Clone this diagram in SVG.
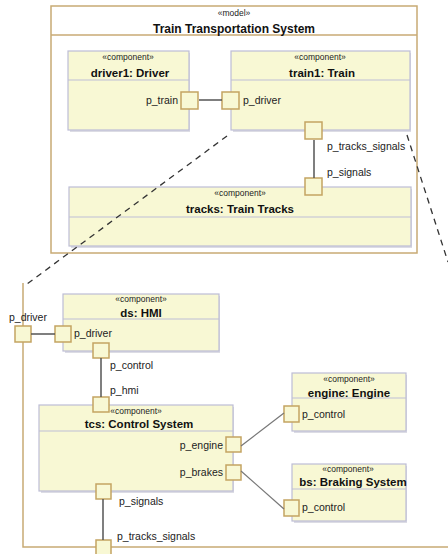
<svg xmlns="http://www.w3.org/2000/svg" width="448" height="554" viewBox="0 0 448 554">
  <style>
    .frame { fill: #ffffff; stroke: #c8aa74; stroke-width: 1.5; }
    .frameline { fill: none; stroke: #c8aa74; stroke-width: 1.5; }
    .box { fill: #f8f8d4; stroke: #bdbdd6; stroke-width: 1.2; }
    .shadow { fill: #dcdce4; }
    .sep { stroke: #bdbdd6; stroke-width: 1.2; }
    .port { fill: #f8f8d4; stroke: #c4a462; stroke-width: 1.5; }
    .conn { stroke: #555555; stroke-width: 1.5; fill: none; }
    .conn2 { stroke: #777777; stroke-width: 1.2; fill: none; }
    .dash { stroke: #333333; stroke-width: 1.3; fill: none; stroke-dasharray: 6 5; }
    .st { font-family: "Liberation Sans", Arial, sans-serif; font-size: 8.5px; fill: #222222; text-anchor: middle; }
    .ttl { font-family: "Liberation Sans", Arial, sans-serif; font-size: 11.5px; font-weight: bold; fill: #111111; text-anchor: middle; }
    .lbl { font-family: "Liberation Sans", Arial, sans-serif; font-size: 10.5px; fill: #222222; }
    .end { text-anchor: end; }
  </style>

  <!-- model frame -->
  <g id="model">
    <rect class="frame" x="51" y="6" width="366" height="247"/>
    <line class="frameline" x1="51" y1="35" x2="417" y2="35"/>
    <text class="st" x="234" y="16">«model»</text>
    <text class="ttl" x="234" y="33" style="font-size:12px">Train Transportation System</text>
  </g>

  <!-- expanded train internals frame -->
  <g id="train-internals">
    <path class="frameline" d="M23 283 V547 H448"/>
  </g>

  <!-- driver1 -->
  <g id="driver1">
    <rect class="shadow" x="70" y="53" width="120" height="79"/>
    <rect class="box" x="68" y="51" width="121" height="79"/>
    <line class="sep" x1="68" y1="80" x2="189" y2="80"/>
    <text class="st" x="128" y="60">«component»</text>
    <text class="ttl" x="130" y="77">driver1: Driver</text>
    <rect class="port" x="181" y="92" width="17" height="17"/>
    <text class="lbl end" x="178" y="104">p_train</text>
  </g>

  <!-- train1 -->
  <g id="train1">
    <rect class="shadow" x="233" y="53" width="178" height="79"/>
    <rect class="box" x="231" y="51" width="179" height="79"/>
    <line class="sep" x1="231" y1="80" x2="410" y2="80"/>
    <text class="st" x="320" y="60">«component»</text>
    <text class="ttl" x="322" y="77">train1: Train</text>
    <rect class="port" x="222" y="92" width="17" height="17"/>
    <text class="lbl" x="243" y="104">p_driver</text>
    <rect class="port" x="305" y="122" width="17" height="17"/>
    <text class="lbl" x="327" y="150">p_tracks_signals</text>
  </g>

  <!-- tracks -->
  <g id="tracks">
    <rect class="shadow" x="71" y="189" width="341" height="59"/>
    <rect class="box" x="69" y="187" width="342" height="59"/>
    <line class="sep" x1="69" y1="217" x2="411" y2="217"/>
    <text class="st" x="240" y="196">«component»</text>
    <text class="ttl" x="240" y="213">tracks: Train Tracks</text>
    <rect class="port" x="305" y="178" width="17" height="17"/>
    <text class="lbl" x="327" y="176">p_signals</text>
  </g>

  <!-- ds: HMI -->
  <g id="hmi">
    <rect class="shadow" x="65" y="296" width="155" height="57"/>
    <rect class="box" x="63" y="294" width="156" height="57"/>
    <line class="sep" x1="63" y1="319" x2="219" y2="319"/>
    <text class="st" x="141" y="302">«component»</text>
    <text class="ttl" x="141" y="317">ds: HMI</text>
    <rect class="port" x="55" y="326" width="16" height="16"/>
    <text class="lbl" x="74" y="337">p_driver</text>
    <rect class="port" x="93" y="343" width="16" height="15"/>
    <text class="lbl" x="110" y="369">p_control</text>
  </g>

  <!-- boundary port of train internals -->
  <g id="train-port-driver">
    <rect class="port" x="15" y="326" width="16" height="16"/>
    <text class="lbl" x="9" y="321">p_driver</text>
  </g>

  <!-- tcs: Control System -->
  <g id="tcs">
    <rect class="shadow" x="41" y="407" width="193" height="86"/>
    <rect class="box" x="39" y="405" width="194" height="86"/>
    <line class="sep" x1="39" y1="431" x2="233" y2="431"/>
    <text class="st" x="136" y="414">«component»</text>
    <text class="ttl" x="139" y="428">tcs: Control System</text>
    <rect class="port" x="93" y="397" width="16" height="15"/>
    <text class="lbl" x="110" y="394">p_hmi</text>
    <rect class="port" x="226" y="437" width="15" height="15"/>
    <text class="lbl end" x="223" y="449">p_engine</text>
    <rect class="port" x="226" y="465" width="15" height="15"/>
    <text class="lbl end" x="223" y="476">p_brakes</text>
    <rect class="port" x="96" y="484" width="15" height="15"/>
    <text class="lbl" x="119" y="505">p_signals</text>
  </g>

  <!-- engine -->
  <g id="engine">
    <rect class="shadow" x="294" y="375" width="113" height="58"/>
    <rect class="box" x="292" y="373" width="114" height="58"/>
    <line class="sep" x1="292" y1="398" x2="406" y2="398"/>
    <text class="st" x="349" y="382">«component»</text>
    <text class="ttl" x="349" y="397">engine: Engine</text>
    <rect class="port" x="284" y="406" width="15" height="16"/>
    <text class="lbl" x="302" y="418">p_control</text>
  </g>

  <!-- bs: Braking System -->
  <g id="braking">
    <rect class="shadow" x="294" y="466" width="113" height="57"/>
    <rect class="box" x="292" y="464" width="114" height="57"/>
    <line class="sep" x1="292" y1="489" x2="406" y2="489"/>
    <text class="st" x="348" y="472">«component»</text>
    <text class="ttl" x="353" y="486">bs: Braking System</text>
    <rect class="port" x="284" y="500" width="15" height="16"/>
    <text class="lbl" x="302" y="511">p_control</text>
  </g>

  <!-- tracks port on train internals boundary -->
  <g id="train-port-tracks">
    <rect class="port" x="96" y="540" width="15" height="16"/>
    <text class="lbl" x="117" y="540">p_tracks_signals</text>
  </g>

  <!-- connectors, drawn over the nodes -->
  <g id="connectors">
    <line class="conn" x1="199" y1="100" x2="222" y2="100"/>
    <line class="conn" x1="314" y1="140" x2="314" y2="178"/>
    <line class="dash" x1="227" y1="136" x2="27" y2="284"/>
    <line class="dash" x1="407" y1="135" x2="448" y2="262"/>
    <line class="conn" x1="31" y1="334" x2="55" y2="334"/>
    <line class="conn" x1="101" y1="358" x2="101" y2="397"/>
    <line class="conn2" x1="241" y1="446" x2="284" y2="413"/>
    <line class="conn2" x1="241" y1="471" x2="284" y2="509"/>
    <line class="conn" x1="103" y1="499" x2="103" y2="540"/>
  </g>
</svg>
